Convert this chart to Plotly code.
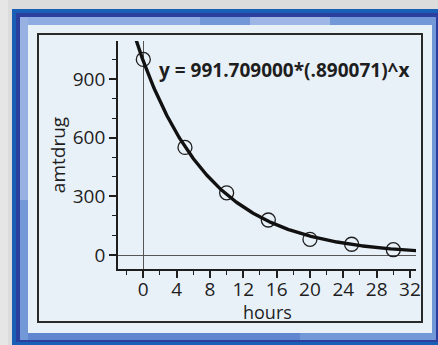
import numpy as np
import plotly.graph_objects as go

# ---- data ----
hours = [0, 5, 10, 15, 20, 25, 30]
amtdrug = [1000, 550, 318, 179, 80, 55, 27]
fit_a = 991.709
fit_b = 0.890071
fit_label = "y = 991.709000*(.890071)^x"
x_ticks = [0, 4, 8, 12, 16, 20, 24, 28, 32]
y_ticks = [0, 300, 600, 900]

W, H = 438, 345
FONT = "Open Sans"
INK = "#1e1e1e"

def px(x):
    return x / W

def py(y):
    return 1 - y / H

def rect(x0, y0, x1, y1, fill=None, line=None, lw=0):
    d = dict(type="rect", xref="paper", yref="paper",
             x0=px(x0), x1=px(x1), y0=py(y1), y1=py(y0),
             layer="below", line=dict(width=lw, color=line or "rgba(0,0,0,0)"))
    d["fillcolor"] = fill if fill else "rgba(0,0,0,0)"
    return d

shapes = [
    rect(0, 0, W, H, fill="#dcdcdc"),
    rect(0, 0, 8, H, fill="#e6e6e6"),
    rect(12, 9, W + 5, H + 5, fill="#1a5fb6"),
    rect(16, 13, W + 5, 342, fill="#2b3f9e"),
    rect(20, 17, 436, 340, fill="#7398d8"),
    rect(20, 17, 200, 25, fill="#8eabe2"),
    rect(250, 17, 330, 25, fill="#9db6e6"),
    rect(20, 17, 28, 200, fill="#97b1e3"),
    rect(28, 333, 300, 340, fill="#5f86cf"),
    rect(28, 25, 432, 333, fill="#e9f1f8"),
    rect(38, 34, 422, 322, line="#2a2a2a", lw=2),
]

# plot-area placement (pixels)
L, R, T, B = 118, 416, 41, 269
x_per_px = 4 / 33.333
x0_val = -(143.3 - L) * x_per_px
x1_val = (R - 143.3) * x_per_px
y_per_px = 900 / 176.0
y0_val = -(B - 255) * y_per_px
y1_val = (255 - T) * y_per_px

xc = np.linspace(-1.5, 34, 400)
yc = fit_a * fit_b ** xc

fig = go.Figure()
fig.add_trace(go.Scatter(x=hours, y=amtdrug, mode="markers",
                         marker=dict(symbol="circle-open", size=14,
                                     line=dict(width=1.3, color=INK), color=INK),
                         showlegend=False, hoverinfo="skip"))
fig.add_trace(go.Scatter(x=xc, y=yc, mode="lines",
                         line=dict(color="#111111", width=3.4),
                         showlegend=False, hoverinfo="skip"))

axis_common = dict(showgrid=False, showline=True, linecolor=INK, linewidth=1.8,
                   ticks="outside", tickcolor=INK, tickwidth=1.5, ticklen=7,
                   zeroline=True, zerolinecolor="#555555", zerolinewidth=1,
                   tickfont=dict(family=FONT, size=19, color=INK),
                   automargin=False, fixedrange=True)

fig.update_layout(
    width=W, height=H,
    margin=dict(l=0, r=0, t=0, b=0),
    paper_bgcolor="#dcdcdc",
    plot_bgcolor="rgba(0,0,0,0)",
    shapes=shapes,
    xaxis=dict(axis_common, domain=[px(L), px(R)], range=[x0_val, x1_val],
               tickvals=x_ticks, ticktext=[str(v) for v in x_ticks],
               ticklabelstandoff=-5,
               minor=dict(dtick=2, tick0=0, ticks="outside", ticklen=4,
                          tickwidth=1.3, tickcolor=INK)),
    yaxis=dict(axis_common, domain=[py(B), py(T)], range=[y0_val, y1_val],
               tickvals=y_ticks, ticktext=[str(v) for v in y_ticks],
               minor=dict(dtick=100, tick0=0, ticks="outside", ticklen=4,
                          tickwidth=1.3, tickcolor=INK),
               title=dict(text="amtdrug", font=dict(family=FONT, size=19, color=INK),
                          standoff=2)),
    annotations=[
        dict(text=f"<b>{fit_label}</b>", xref="paper", yref="paper",
             x=px(157), y=py(70), xanchor="left", yanchor="middle",
             showarrow=False, font=dict(family=FONT, size=19, color=INK)),
        dict(text="hours", xref="paper", yref="paper",
             x=px((L + R) / 2), y=py(312), xanchor="center", yanchor="middle",
             showarrow=False, font=dict(family=FONT, size=18, color=INK)),
    ],
)

fig.write_html("out.html", config=dict(displayModeBar=False),
               post_script="document.body.style.margin='0px';"
                           "document.body.style.background='#dcdcdc';")
